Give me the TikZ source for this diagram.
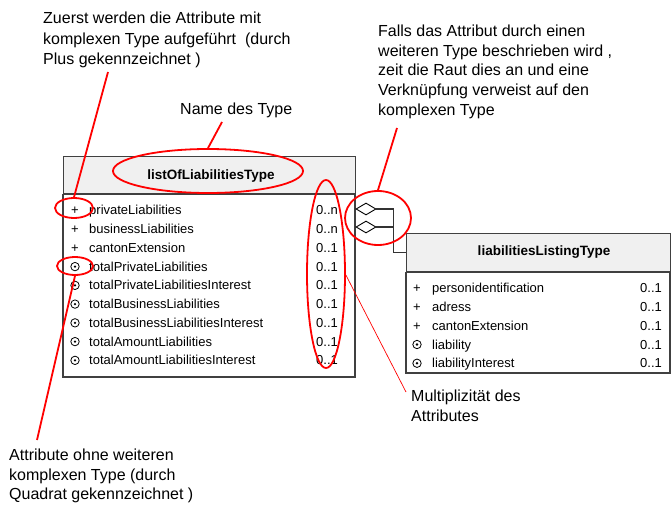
\documentclass[tikz,border=0pt]{standalone}
\usepackage{fontspec}
\setmainfont{Liberation Sans}
\usetikzlibrary{shapes.geometric}

\tikzset{
	note/.style={anchor=north west, align=left, inner sep=0pt},
	ring/.style={ellipse, draw=red, line width=1.8pt, inner sep=0pt},
	pointer/.style={draw=red, line width=1.8pt},
	boxline/.style={draw=black!75, line width=1.2pt},
	headbox/.style={boxline, fill=black!6, anchor=north west, inner sep=0pt},
	cell/.style={anchor=base west, inner sep=0pt, font=\fontsize{13}{15}\selectfont},
	title/.style={inner sep=0pt, font=\fontsize{13.5}{16}\selectfont\bfseries},
	raute/.style={diamond, draw=black, line width=0.9pt, minimum width=20pt, minimum height=12pt, inner sep=0pt, fill=white},
	link/.style={draw=black!80, line width=1.1pt}
}

\begin{document}
\begin{tikzpicture}[x=1pt, y=-1pt]
		\useasboundingbox (0,0) rectangle (671,505);
		\def\fnote{\fontsize{16}{20.5}\selectfont}
		% listOfLiabilitiesType
		\node[headbox, minimum width=292pt, minimum height=37pt] (listHead) at (63,156) {};
		\draw[boxline] (listHead.south west) rectangle (355,377);
		\node[title] (listTitle) at (211,176) {listOfLiabilitiesType};
		\foreach \name/\mult [count=\i] in {privateLiabilities/0..n, businessLiabilities/0..n,
			cantonExtension/0..1, totalPrivateLiabilities/0..1, totalPrivateLiabilitiesInterest/0..1,
			totalBusinessLiabilities/0..1, totalBusinessLiabilitiesInterest/0..1,
			totalAmountLiabilities/0..1, totalAmountLiabilitiesInterest/0..1}{
			\node[cell] (lrow\i) at (89,196.2+18.75*\i) {\name};
			\node[cell] (lmult\i) at (316,196.2+18.75*\i) {\mult};
		}
		\foreach \i in {1,2,3}
			\node[cell, anchor=base] at (75,196.2+18.75*\i) {+};
		\foreach \i in {4,...,9}{
			\draw[line width=0.8pt] (75,191.6+18.75*\i) circle (4.2pt);
			\fill (75,191.6+18.75*\i) circle (1.3pt);
		}

		% liabilitiesListingType
		\node[headbox, minimum width=264pt, minimum height=38pt] (listingHead) at (406,233) {};
		\draw[boxline] (listingHead.south west) rectangle (670,373);
		\node[title] (listingTitle) at (544,252) {liabilitiesListingType};
		\foreach \name [count=\i] in {personidentification, adress, cantonExtension, liability, liabilityInterest}{
			\node[cell] (rrow\i) at (432,274.1+18.75*\i) {\name};
			\node[cell] (rmult\i) at (640,274.1+18.75*\i) {0..1};
		}
		\foreach \i in {1,2,3}
			\node[cell, anchor=base] at (417,274.1+18.75*\i) {+};
		\foreach \i in {4,5}{
			\draw[line width=0.8pt] (417,269.5+18.75*\i) circle (4.2pt);
			\fill (417,269.5+18.75*\i) circle (1.3pt);
		}

		% Rauten
		\node[raute] (rautA) at (366,209) {};
		\node[raute] (rautB) at (366,227) {};
		\draw[link] (rautA.east) -- ++(17,0) |- (listingHead.west);
		\draw[link] (rautB.east) -- ++(17,0);

		% Erklaerungen
		\node[note, font=\fnote] (plusNote) at (43,12) {Zuerst werden die Attribute mit\\komplexen Type aufgeführt\ \ (durch\\Plus gekennzeichnet )};
		\node[note, font=\fnote] (nameNote) at (180,103) {Name des Type};
		\node[note, font=\fontsize{16}{19.6}\selectfont] (rautNote) at (378,25) {Falls das Attribut durch einen\\weiteren Type beschrieben wird ,\\zeit die Raut dies an und eine\\Verknüpfung verweist auf den\\komplexen Type};
		\node[note, font=\fontsize{16}{20}\selectfont] (multNote) at (411,390) {Multiplizität des\\Attributes};
		\node[note, font=\fontsize{16}{19.5}\selectfont] (squareNote) at (9,449) {Attribute ohne weiteren\\komplexen Type (durch\\Quadrat gekennzeichnet )};

		% Markierungen
		\node[ring, minimum width=190pt, minimum height=44pt] (titleRing) at (208,171) {};
		\node[ring, minimum width=38pt, minimum height=20pt] (plusRing) at (74,208) {};
		\node[ring, minimum width=36pt, minimum height=18pt] (dotRing) at (75,266) {};
		\node[ring, minimum width=38pt, minimum height=188pt] (multRing) at (326,274) {};
		\node[ring, minimum width=66pt, minimum height=54pt] (diaRing) at (378,218) {};

		\coordinate (plusTail) at (108,72);
		\coordinate (nameTail) at (222,122);
		\coordinate (dotTail) at (37,440);
		\coordinate (multTail) at (406,392);
		\coordinate (rautTail) at (397,128);
		\draw[pointer] (plusTail) -- (plusRing.north);
		\draw[pointer] (nameTail) -- (titleRing.north);
		\draw[pointer] (dotRing.south) -- (dotTail);
		\draw[pointer] (diaRing.north) -- (rautTail);
		\draw[red, line width=0.7pt] (multRing.-3) -- (multTail);
	\end{tikzpicture}
\end{document}
